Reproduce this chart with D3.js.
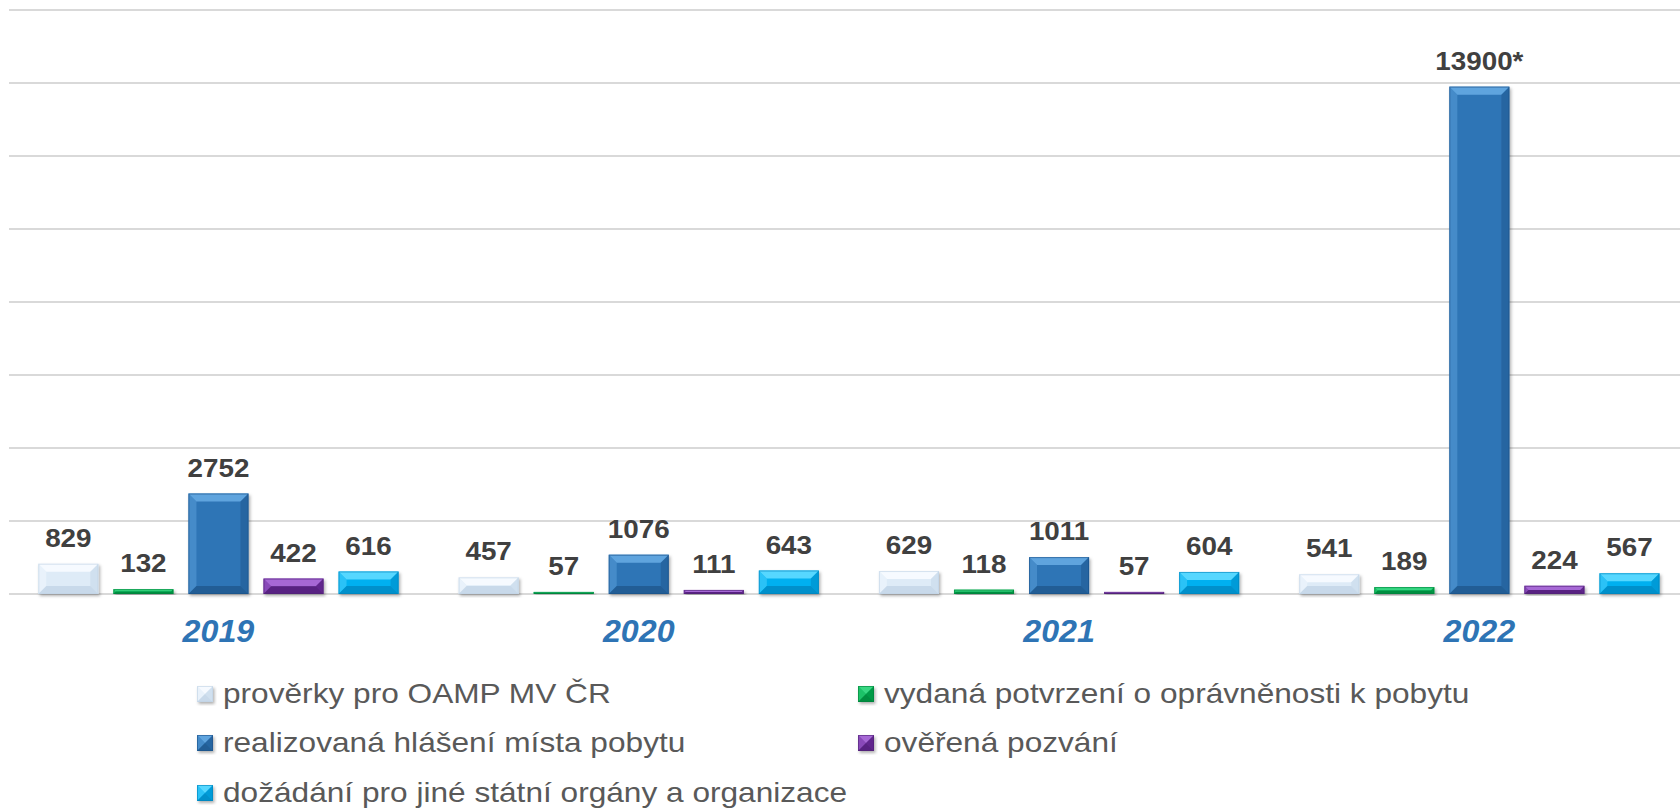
<!DOCTYPE html>
<html>
<head>
<meta charset="utf-8">
<script src="https://cdn.jsdelivr.net/npm/d3@7"></script>
<style>
  body { margin: 0; background: #fff; }
  svg { display: block; font-family: "Liberation Sans", Arial, sans-serif; }
</style>
</head>
<body>
<svg id="canvas" width="1680" height="811"></svg>
<script>
// data
const years = ['2019', '2020', '2021', '2022'];
const seriesNames = [
	'prověrky pro OAMP MV ČR',
	'vydaná potvrzení o oprávněnosti k pobytu',
	'realizovaná hlášení místa pobytu',
	'ověřená pozvání',
	'dožádání pro jiné státní orgány a organizace'
];
const proverky = [829, 457, 629, 541];
const vydana = [132, 57, 118, 189];
const realizovana = [2752, 1076, 1011, 13900];
const overena = [422, 111, 57, 224];
const dozadani = [616, 643, 604, 567];
// 2022 realizovaná is marked with an asterisk in the original
const labelSuffix = [['', '', '', ''], ['', '', '', ''], ['', '', '', '*'], ['', '', '', ''], ['', '', '', '']];
const yTicks = [0, 2000, 4000, 6000, 8000, 10000, 12000, 14000, 16000];

// base, light, dark
const colors = [
	['#deebf7', '#f7fbff', '#bfd2e4'],
	['#00b050', '#3ad985', '#00803a'],
	['#2e75b6', '#62a6e0', '#1c5288'],
	['#7030a0', '#a96bd8', '#4f1f75'],
	['#00b0f0', '#5cd9ff', '#0083bb']
];

const allSeries = [proverky, vydana, realizovana, overena, dozadani];

const svg = d3.select('#canvas');

const defs = svg.append('defs');
defs.append('filter')
	.attr('id', 'shadow')
	.attr('x', '-20%').attr('y', '-20%').attr('width', '140%').attr('height', '140%')
	.append('feDropShadow')
	.attr('dx', 1.5).attr('dy', 2).attr('stdDeviation', 1.8)
	.attr('flood-color', '#000').attr('flood-opacity', 0.3);

const x0 = d3.scaleBand().domain(years).range([8.3, 1689.5]).padding(0);
const x1 = d3.scaleBand().domain(d3.range(5)).range([0, x0.bandwidth()])
	.paddingInner(0.2).paddingOuter(0.4);
const y = d3.scaleLinear().domain([0, 16000]).range([594, 10]);

// gridlines
svg.append('g')
	.selectAll('line')
	.data(yTicks)
	.enter()
	.append('line')
	.attr('x1', 9)
	.attr('x2', 1680)
	.attr('y1', (d) => y(d))
	.attr('y2', (d) => y(d))
	.attr('stroke', '#d9d9d9')
	.attr('stroke-width', 2);

// beveled box
function bevelBox(g, x, yTop, w, h, c) {
	const b = Math.min(8, h / 2, w / 2);
	const box = g.append('g').attr('filter', 'url(#shadow)');
	box.append('rect').attr('x', x).attr('y', yTop).attr('width', w).attr('height', h)
		.attr('fill', c[0]);
	const x2 = x + w, y2 = yTop + h;
	const poly = (pts, fill, op) => box.append('polygon')
		.attr('points', pts.map((p) => p.join(',')).join(' '))
		.attr('fill', fill).attr('opacity', op);
	// top
	poly([[x, yTop], [x2, yTop], [x2 - b, yTop + b], [x + b, yTop + b]], c[1], 0.95);
	// left
	poly([[x, yTop], [x + b, yTop + b], [x + b, y2 - b], [x, y2]], c[1], 0.45);
	// right
	poly([[x2, yTop], [x2 - b, yTop + b], [x2 - b, y2 - b], [x2, y2]], c[2], 0.45);
	// bottom
	poly([[x, y2], [x + b, y2 - b], [x2 - b, y2 - b], [x2, y2]], c[2], 0.7);
	box.append('rect').attr('x', x + 0.5).attr('y', yTop + 0.5)
		.attr('width', Math.max(0, w - 1)).attr('height', Math.max(0, h - 1))
		.attr('fill', 'none').attr('stroke', c[2]).attr('stroke-opacity', 0.6);
}

// text slightly widened like the original
function wideText(g, x, yy, sx, str) {
	return g.append('text')
		.attr('transform', 'translate(' + x + ',' + yy + ') scale(' + sx + ',1)')
		.text(str);
}

// bars
const groups = svg.append('g')
	.selectAll('g')
	.data(years)
	.enter()
	.append('g')
	.attr('transform', (d) => 'translate(' + x0(d) + ',0)');

groups.each(function (year, yi) {
	const g = d3.select(this);
	allSeries.forEach((vals, si) => {
		const v = vals[yi];
		const top = y(v);
		bevelBox(g, x1(si), top, x1.bandwidth(), y(0) - top, colors[si]);
		wideText(g, x1(si) + x1.bandwidth() / 2, top - 17, 1.07, v + labelSuffix[si][yi])
			.attr('text-anchor', 'middle')
			.attr('font-size', 26)
			.attr('font-weight', 'bold')
			.attr('fill', '#404040');
	});
});

// category labels
const cats = svg.append('g');
years.forEach((d) => {
	wideText(cats, x0(d) + x0.bandwidth() / 2, 642, 1.04, d)
		.attr('text-anchor', 'middle')
		.attr('font-size', 31)
		.attr('font-weight', 'bold')
		.attr('font-style', 'italic')
		.attr('fill', '#2e74b5');
});

// legend
const legendPos = [[197, 703], [858, 703], [197, 752], [858, 752], [197, 802]];
const legend = svg.append('g')
	.selectAll('g')
	.data(seriesNames)
	.enter()
	.append('g')
	.attr('transform', (d, i) => 'translate(' + legendPos[i][0] + ',' + legendPos[i][1] + ')');

legend.each(function (name, i) {
	const g = d3.select(this);
	bevelBox(g, 0, -17, 16, 16, colors[i]);
	wideText(g, 26, 0, 1.13, name)
		.attr('font-size', 28)
		.attr('fill', '#595959');
});
</script>
</body>
</html>
